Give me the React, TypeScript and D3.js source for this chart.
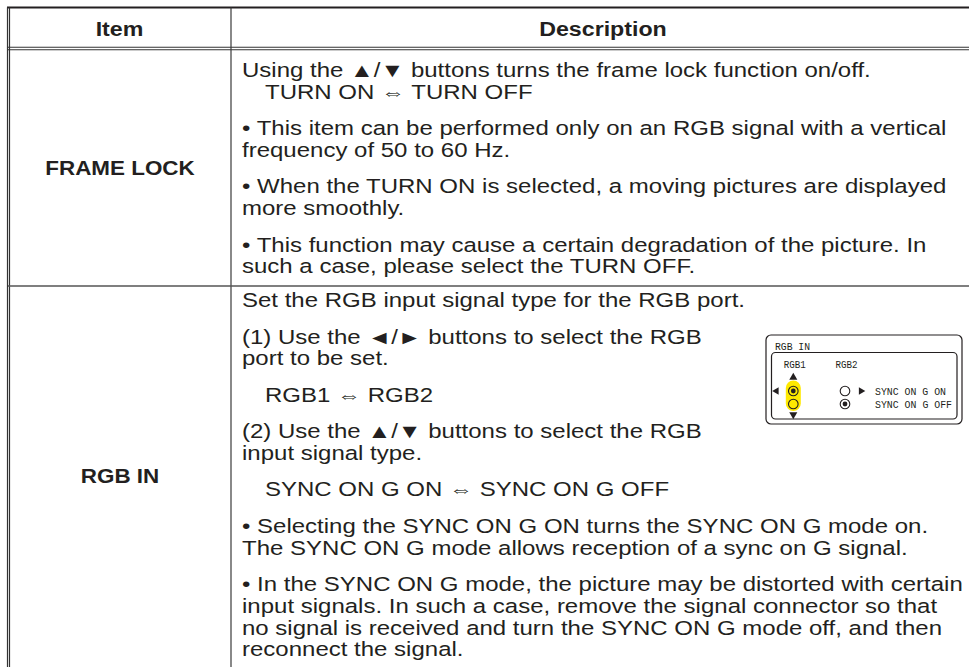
import { useRef, useEffect } from 'react';
import * as d3 from 'd3';

// table content
const headers = ["Item", "Description"];
const items = ["FRAME LOCK", "RGB IN"];

// a line starting with spaces is drawn indented
const frameLockParas = [
  ["Using the ▲/▼ buttons turns the frame lock function on/off.", "  TURN ON ⇔ TURN OFF"],
  ["• This item can be performed only on an RGB signal with a vertical", "frequency of 50 to 60 Hz."],
  ["• When the TURN ON is selected, a moving pictures are displayed", "more smoothly."],
  ["• This function may cause a certain degradation of the picture. In", "such a case, please select the TURN OFF."],
];

const rgbInParas = [
  ["Set the RGB input signal type for the RGB port."],
  ["(1) Use the ◄/► buttons to select the RGB", "port to be set."],
  ["  RGB1 ⇔ RGB2"],
  ["(2) Use the ▲/▼ buttons to select the RGB", "input signal type."],
  ["  SYNC ON G ON ⇔ SYNC ON G OFF"],
  ["• Selecting the SYNC ON G ON turns the SYNC ON G mode on.", "The SYNC ON G mode allows reception of a sync on G signal."],
  ["• In the SYNC ON G mode, the picture may be distorted with certain", "input signals. In such a case, remove the signal connector so that", "no signal is received and turn the SYNC ON G mode off, and then", "reconnect the signal."],
];

// menu picture inside the RGB IN row
const insetTitle = "RGB  IN";
const insetPorts = ["RGB1", "RGB2"];
const insetOptions = ["SYNC ON G ON", "SYNC ON G OFF"];
const insetSelected = [0, 1]; // selected option per port

const INK = "#231f20";
const FONT = "'Liberation Sans', Arial, Helvetica, sans-serif";
const MONO = "'Liberation Mono', 'DejaVu Sans Mono', monospace";

function App() {
  const ref = useRef<SVGSVGElement>(null);

  useEffect(() => {
    const svg = d3.select(ref.current);
    svg.selectAll("*").remove();

    const W = 969, H = 667;
    svg.attr("width", W).attr("height", H);

    const x0 = 8, xDiv = 231, x1 = 975;
    const yTop = 7.5, yHead = 48.5, yRow = 286, yBottom = 676;

    const sx = 1.232;
    const g = svg.append("g");

    const put = (txt: string, x: number, y: number, opts: { bold?: boolean; size?: number; anchor?: string; scale?: number }) => {
      g.append("text")
        .attr("transform", `translate(${x},${y}) scale(${opts.scale ?? sx},1)`)
        .attr("text-anchor", opts.anchor ?? "start")
        .attr("font-family", FONT)
        .attr("font-size", opts.size ?? 19.5)
        .attr("font-weight", opts.bold ? "bold" : "normal")
        .attr("fill", INK)
        .text(txt);
    };

    // borders
    const line = (xa: number, ya: number, xb: number, yb: number, w: number, c = INK) =>
      g.append("line").attr("x1", xa).attr("y1", ya).attr("x2", xb).attr("y2", yb)
        .attr("stroke", c).attr("stroke-width", w);

    line(x0 - 1, yTop, x1, yTop, 2);
    line(x0 - 0.5, yTop, x0 - 0.5, yBottom, 1.2, "#333");
    line(x0 + 1.5, yTop, x0 + 1.5, yBottom, 1.2, "#333");
    line(x0, yHead - 1.2, x1, yHead - 1.2, 1.1, "#333");
    line(x0, yHead + 1.2, x1, yHead + 1.2, 1.1, "#333");
    line(xDiv, yTop, xDiv, yBottom, 1.2, "#3a3a3a");
    line(x0, yRow, x1, yRow, 1.3, "#555");
    line(x1, yTop, x1, yBottom, 1.2, "#333");

    // header
    const bold = { bold: true, anchor: "middle", scale: 1.19 };
    put(headers[0], (x0 + xDiv) / 2, 36, bold);
    put(headers[1], (xDiv + x1) / 2, 36, bold);

    // item labels, centred vertically in their rows
    put(items[0], (x0 + xDiv) / 2 + 0.5, (yHead + yRow) / 2 + 8, { ...bold, scale: 1.15 });
    put(items[1], (x0 + xDiv) / 2 + 0.5, (yRow + yBottom) / 2 + 2, { ...bold, scale: 1.15 });

    // description paragraphs
    const lineStep = 21.7, paraStep = 36.5;
    const textX = 242, indentX = 265;
    const drawParas = (paras: string[][], firstY: number) => {
      let y = firstY;
      paras.forEach((p, pi) => {
        if (pi > 0) y += paraStep;
        p.forEach((l, li) => {
          if (li > 0) y += lineStep;
          const indented = l.startsWith(" ");
          put(l.trim(), indented ? indentX : textX, y, {});
        });
      });
    };
    drawParas(frameLockParas, 77);
    drawParas(rgbInParas, 307);

    // inset menu picture
    const inset = svg.append("g");
    inset.append("rect").attr("x", 766).attr("y", 335).attr("width", 196).attr("height", 89)
      .attr("rx", 5).attr("fill", "white").attr("stroke", INK).attr("stroke-width", 1.2);
    inset.append("rect").attr("x", 771.5).attr("y", 352.5).attr("width", 185.5).attr("height", 66.5)
      .attr("rx", 4).attr("fill", "white").attr("stroke", INK).attr("stroke-width", 1.2);

    const small = (txt: string, x: number, y: number, len: number) =>
      inset.append("text").attr("x", x).attr("y", y)
        .attr("font-family", MONO).attr("font-size", 11.5).attr("fill", INK)
        .attr("textLength", len).attr("lengthAdjust", "spacingAndGlyphs")
        .text(txt);

    small(insetTitle, 775, 349.5, 35);

    const portX = d3.scalePoint<string>().domain(insetPorts).range([793.3, 845]);
    const optY = d3.scalePoint<string>().domain(insetOptions).range([391, 404]);

    insetPorts.forEach((p) => small(p, portX(p)! - 9.5, 368, 22));

    // yellow highlight on the active port
    inset.append("rect").attr("x", portX(insetPorts[0])! - 7.5).attr("y", 380.5)
      .attr("width", 15).attr("height", 30.5).attr("rx", 7.5).attr("fill", "#ffe900");

    const tri = d3.symbol(d3.symbolTriangle);
    const arrow = (x: number, y: number, rot: number, size: number) =>
      inset.append("path").attr("d", tri.size(size)()!)
        .attr("transform", `translate(${x},${y}) rotate(${rot})`).attr("fill", INK);

    const px1 = portX(insetPorts[0])!;
    arrow(px1, 377.5, 0, 28);
    arrow(px1, 414.5, 180, 28);
    arrow(776.5, optY(insetOptions[0])!, -90, 24);
    arrow(861, optY(insetOptions[0])!, 90, 24);

    insetPorts.forEach((p, pi) => {
      insetOptions.forEach((o, oi) => {
        const cx = portX(p)!, cy = optY(o)!;
        inset.append("circle").attr("cx", cx).attr("cy", cy).attr("r", 4.8)
          .attr("fill", pi === 0 ? "#ffe900" : "white").attr("stroke", INK).attr("stroke-width", 1.1);
        if (insetSelected[pi] === oi) {
          inset.append("circle").attr("cx", cx).attr("cy", cy).attr("r", 2.4).attr("fill", INK);
        }
      });
    });

    insetOptions.forEach((o, oi) => small(o, 875, optY(o)! + 4, oi === 0 ? 71 : 77));
  }, []);

  return <svg ref={ref} style={{ position: 'absolute', left: 0, top: 0, background: 'white' }} />;
}

export default App;
